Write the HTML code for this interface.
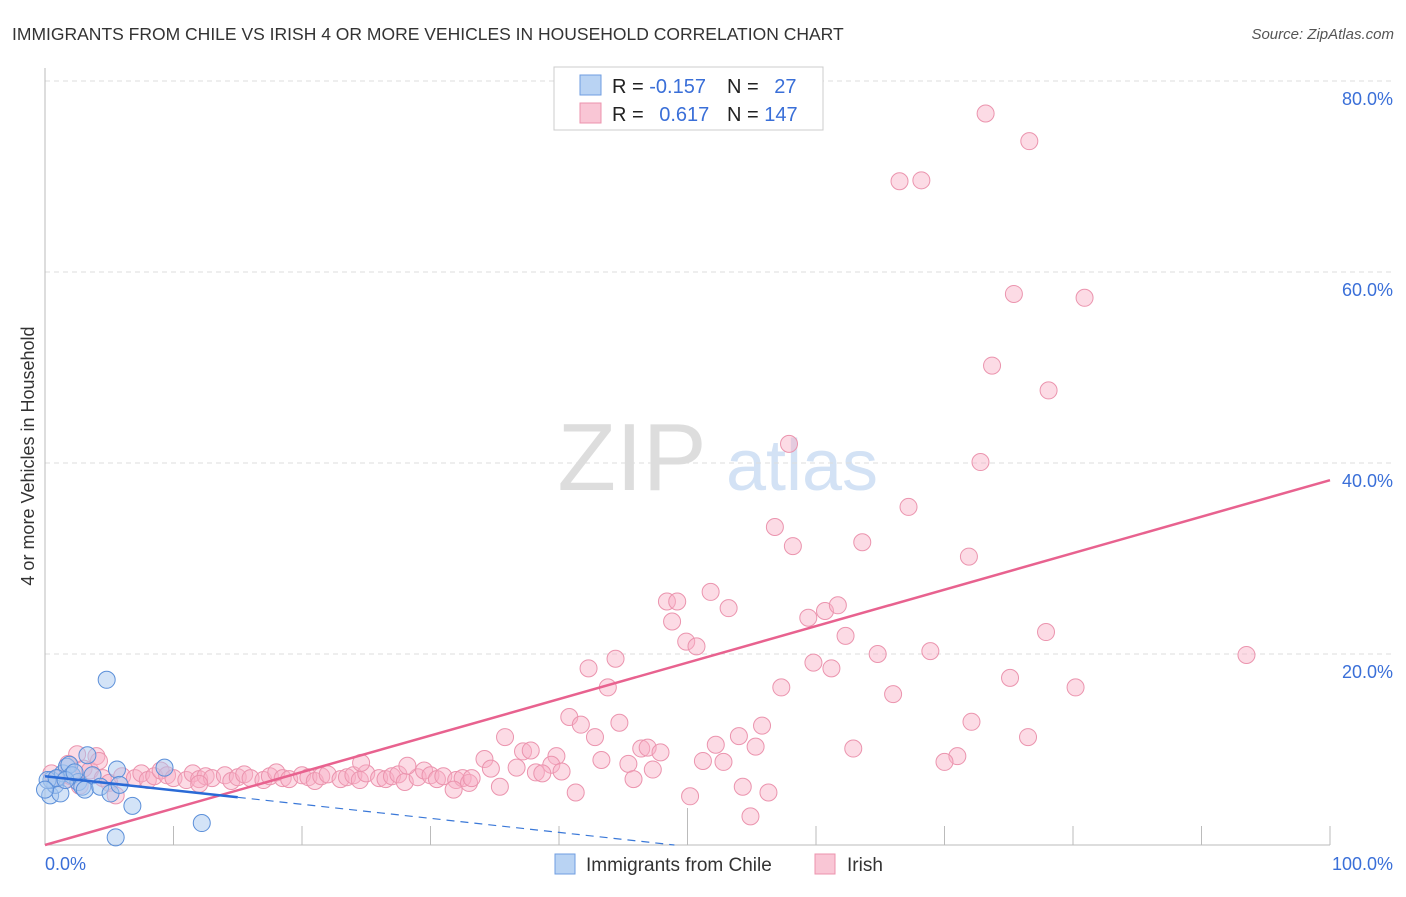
<!DOCTYPE html>
<html><head><meta charset="utf-8"><style>
body{margin:0;background:#fff;font-family:"Liberation Sans",sans-serif;}
svg text{font-family:"Liberation Sans",sans-serif;}
</style></head><body>
<svg id="chart" width="1406" height="892" xmlns="http://www.w3.org/2000/svg">
<text x="12" y="40" font-size="17.5" fill="#333">IMMIGRANTS FROM CHILE VS IRISH 4 OR MORE VEHICLES IN HOUSEHOLD CORRELATION CHART</text>
<text x="1394" y="39" font-size="15" fill="#555" text-anchor="end" font-style="italic">Source: ZipAtlas.com</text>
<g>
<text x="632" y="490" font-size="96" fill="#ddd" font-family="Liberation Serif" text-anchor="middle">ZIP</text>
<text x="802" y="490" font-size="72" fill="#d3e2f5" text-anchor="middle">atlas</text>
</g>
<text transform="translate(34,456) rotate(-90)" font-size="18" fill="#333" text-anchor="middle">4 or more Vehicles in Household</text>
<g id="grid"></g>
<g id="axes"></g>
<g id="pts"></g>
<g id="trend"></g>
<g>
<rect x="554" y="67" width="269" height="63" fill="#fff" stroke="#ccc"/>
<rect x="580" y="75" width="21" height="20" fill="#b9d3f3" stroke="#6f9ee0"/>
<rect x="580" y="103" width="21" height="20" fill="#f9c6d5" stroke="#ec93ad"/>
<text x="612" y="93" font-size="20" fill="#222">R = <tspan fill="#3a6fd8">-0.157</tspan></text>
<text x="727" y="93" font-size="20" fill="#222">N = <tspan fill="#3a6fd8" dx="10">27</tspan></text>
<text x="612" y="121" font-size="20" fill="#222">R = <tspan fill="#3a6fd8" dx="10">0.617</tspan></text>
<text x="727" y="121" font-size="20" fill="#222">N = <tspan fill="#3a6fd8">147</tspan></text>
</g>
<g>
<rect x="555" y="854" width="20" height="20" fill="#b9d3f3" stroke="#6f9ee0"/>
<text x="586" y="871" font-size="19" fill="#333">Immigrants from Chile</text>
<rect x="815" y="854" width="20" height="20" fill="#f9c6d5" stroke="#ec93ad"/>
<text x="847" y="871" font-size="19" fill="#333">Irish</text>
</g>
</svg>
<script>
const yTicks=[20,40,60,80];
const yTickLabels=["20.0%","40.0%","60.0%","80.0%"];
const xEndLabels=["0.0%","100.0%"];
const chileX=[0.4,0.8,0.5,1.2,1.4,1.7,1.9,2.1,2.6,2.9,3.1,3.3,3.7,4.3,4.8,5.1,5.6,5.8,6.8,5.5,9.3,12.2,0.2,0.9,1.6,2.3,0.0];
const chileY=[5.2,6.3,6.8,5.4,7.5,8.2,8.4,7.3,6.6,6.1,5.8,9.4,7.3,6.1,17.3,5.4,7.9,6.3,4.1,0.8,8.1,2.3,6.8,7.0,6.8,7.6,5.8];
const irishX=[73.2,76.6,66.5,68.2,75.4,80.9,73.7,78.1,57.9,72.8,67.2,56.8,58.2,63.6,71.9,48.4,49.2,51.8,53.2,48.8,59.4,60.7,61.7,62.3,49.9,50.7,42.3,44.4,68.9,64.8,77.9,93.5,59.8,61.2,43.8,57.3,66.0,75.1,80.2,40.8,41.7,42.8,44.7,55.8,54.0,52.2,55.3,62.9,72.1,71.0,70.0,76.5,35.8,37.2,37.8,39.8,46.4,46.9,47.9,45.4,39.4,34.2,36.7,34.7,38.2,38.7,40.2,43.3,47.3,51.2,52.8,45.8,35.4,41.3,50.2,54.3,56.3,54.9,
0.5,1,1.5,2,2.5,3,3.5,4,4.5,5,5.5,6,7,7.5,8,8.5,9,9.5,10,11,11.5,12,12.5,13,14,14.5,15,15.5,16,17,17.5,18,18.5,19,20,20.5,21,21.5,22,23,23.5,24,24.5,25,26,26.5,27,27.5,28,29,29.5,30,30.5,31,32,32.5,33,1.8,2.7,4.2,12,24.6,28.2,31.8,33.2];
const irishY=[76.6,73.7,69.5,69.6,57.7,57.3,50.2,47.6,42.0,40.1,35.4,33.3,31.3,31.7,30.2,25.5,25.5,26.5,24.8,23.4,23.8,24.5,25.1,21.9,21.3,20.8,18.5,19.5,20.3,20.0,22.3,19.9,19.1,18.5,16.5,16.5,15.8,17.5,16.5,13.4,12.6,11.3,12.8,12.5,11.4,10.5,10.3,10.1,12.9,9.3,8.7,11.3,11.3,9.8,9.9,9.3,10.1,10.2,9.7,8.5,8.4,9.0,8.1,8.0,7.6,7.5,7.7,8.9,7.9,8.8,8.7,6.9,6.1,5.5,5.1,6.1,5.5,3.0,
7.5,7,6.8,7.2,9.5,8,7.8,9.3,7,6.5,5.2,7.2,7,7.5,6.8,7.2,7.8,7.3,7,6.8,7.5,6.9,7.2,7,7.3,6.7,7.1,7.4,7,6.8,7.2,7.6,7.0,6.9,7.3,7.1,6.7,7.2,7.4,6.9,7.1,7.3,6.8,7.5,7.0,6.9,7.2,7.4,6.6,7.1,7.8,7.3,6.9,7.2,6.8,7.0,6.5,8.5,6.2,8.8,6.4,8.6,8.3,5.8,7.0];
const irishTrend=[0,38.2];
const chileTrend=[7.2,-0.147];
const NS="http://www.w3.org/2000/svg";
const X0=45,X1=1330,Y0=845,YS=9.55;
const sx=v=>X0+(X1-X0)*v/100, sy=v=>Y0-v*YS;
function mk(tag,attrs,parent){const e=document.createElementNS(NS,tag);for(const k in attrs)e.setAttribute(k,attrs[k]);parent.appendChild(e);return e;}
const grid=document.getElementById('grid'),axes=document.getElementById('axes'),pts=document.getElementById('pts'),tr=document.getElementById('trend');
yTicks.forEach((t,i)=>{
 const l=mk('line',{x1:X0,x2:1395,y1:sy(t),y2:sy(t),stroke:'#ddd','stroke-dasharray':'5,4'},grid);
 
 
 const tx=mk('text',{x:1393,y:sy(t)+24,'font-size':18,fill:'#3a6fd8','text-anchor':'end'},grid);
 tx.textContent=yTickLabels[i];
 
 
});
const g1=mk('line',{x1:X0,x2:1395,y1:sy(80)-12,y2:sy(80)-12,stroke:'#fff'},grid);
const ay=mk('line',{x1:X0,x2:X0,y1:68,y2:Y0,stroke:'#bbb'},axes);


const ax=mk('line',{x1:X0,x2:X1,y1:Y0,y2:Y0,stroke:'#bbb'},axes);


for(let i=1;i<=10;i++){const t=mk('line',{x1:sx(i*10),x2:sx(i*10),y1:i==5?808:826,y2:Y0,stroke:'#bbb'},axes);
 
 }
[[0,'start',45],[100,'end',1393]].forEach((a,i)=>{const t=mk('text',{x:a[2],y:870,'font-size':18,fill:'#3a6fd8','text-anchor':a[1]},axes);t.textContent=xEndLabels[i];
 
 });
irishX.forEach((x,i)=>{const c=mk('circle',{cx:sx(x),cy:sy(irishY[i]),r:8.5,fill:'rgba(248,176,198,0.45)',stroke:'#eb94ae','stroke-width':1},pts);
 
 });
chileX.forEach((x,i)=>{const c=mk('circle',{cx:sx(x),cy:sy(chileY[i]),r:8.5,fill:'rgba(168,200,240,0.5)',stroke:'#5b8fd9','stroke-width':1},pts);
 
 });
const it=mk('line',{x1:sx(0),y1:sy(irishTrend[0]),x2:sx(100),y2:sy(irishTrend[1]),stroke:'#e8628f','stroke-width':2.5},tr);


const zero=-chileTrend[0]/chileTrend[1];
const cd=mk('line',{x1:sx(15),y1:sy(chileTrend[0]+chileTrend[1]*15),x2:sx(zero),y2:sy(0),stroke:'#3a78d8','stroke-width':1.2,'stroke-dasharray':'8,6'},tr);


const cs=mk('line',{x1:sx(0),y1:sy(chileTrend[0]),x2:sx(15),y2:sy(chileTrend[0]+chileTrend[1]*15),stroke:'#2a6ad6','stroke-width':2.5},tr);


</script>
</body></html>
